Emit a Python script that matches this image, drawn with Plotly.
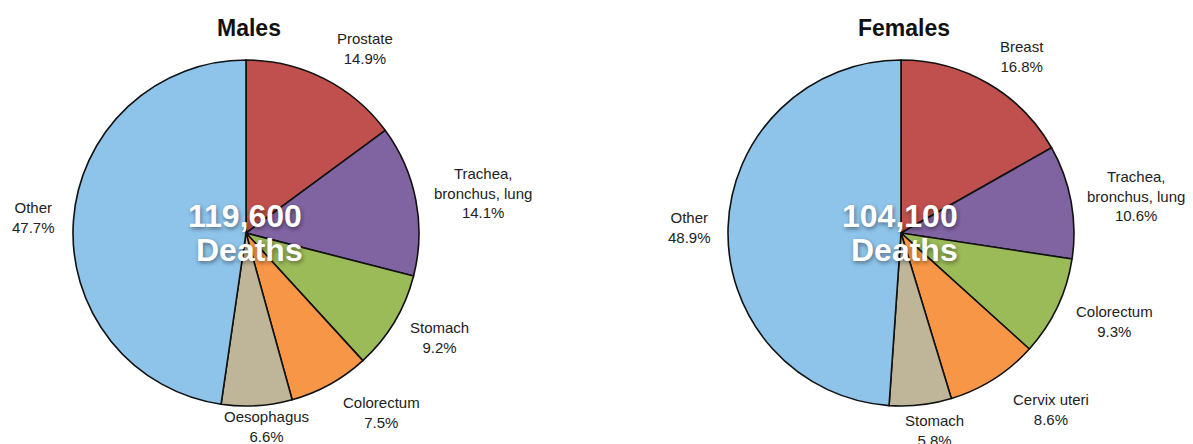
import math
import plotly.graph_objects as go

# ---------------- Data ----------------
male_labels = ["Prostate", "Trachea,<br>bronchus, lung", "Stomach", "Colorectum", "Oesophagus", "Other"]
male_values = [14.9, 14.1, 9.2, 7.5, 6.6, 47.7]
male_total = "119,600"

female_labels = ["Breast", "Trachea,<br>bronchus, lung", "Colorectum", "Cervix uteri", "Stomach", "Other"]
female_values = [16.8, 10.6, 9.3, 8.6, 5.8, 48.9]
female_total = "104,100"

center_word = "Deaths"

# ---------------- Styles / layout ----------------
slice_colors = ["#C0504D", "#8064A2", "#9BBB59", "#F79646", "#BFB69A", "#8EC4EA"]

# label placement (distance of label centre from pie centre in px, angular shift in degrees)
male_label_dist = [219, 240, 220, 225, 195, 213]
male_label_shift = [6.0, 1.3, -2.5, -7.9, -2.3, -0.1]
female_label_dist = [214, 238, 231, 232, 200, 212]
female_label_shift = [4.2, 1.5, -2.8, -8.0, -3.3, -0.6]

W, H = 1193, 444
R = 173

FONT = "Liberation Sans, Arial, Helvetica, sans-serif"


def px(X):
    return X / W


def py(Y):
    return 1 - Y / H


def dom(cx, cy):
    return dict(x=[px(cx - R), px(cx + R)], y=[py(cy + R), py(cy - R)])


fig = go.Figure()
annotations = []

pies = [
    ("Males", male_labels, male_values, male_total, male_label_dist, male_label_shift, (246, 233)),
    ("Females", female_labels, female_values, female_total, female_label_dist, female_label_shift, (901, 233)),
]

for title, labels, values, total, dists, shifts, (cx, cy) in pies:
    fig.add_trace(go.Pie(
        labels=[l.replace("<br>", " ") for l in labels],
        values=values,
        textinfo="none",
        sort=False,
        direction="clockwise",
        rotation=0,
        marker=dict(colors=slice_colors, line=dict(color="#111111", width=1.6)),
        domain=dom(cx, cy),
        showlegend=False,
        hoverinfo="label+percent",
    ))

    # outside labels placed at each slice's mid-angle
    tot = sum(values)
    cum = 0.0
    for lab, v, d, s in zip(labels, values, dists, shifts):
        mid = (cum + v / 2) / tot * 360.0
        cum += v
        a = math.radians(mid + s)
        X = cx + d * math.sin(a)
        Y = cy - d * math.cos(a)
        annotations.append(dict(
            text=f"{lab}<br>{v:.1f}%", x=px(X), y=py(Y), xref="paper", yref="paper",
            showarrow=False, xanchor="center", yanchor="middle", align="center",
            font=dict(family=FONT, size=15, color="#222222"),
        ))

    # title
    annotations.append(dict(
        text=title, x=px(cx + 3), y=py(28), xref="paper", yref="paper",
        showarrow=False, xanchor="center", yanchor="middle",
        font=dict(family=FONT, size=23, color="#111111", weight="bold"),
    ))
    # centre text
    cfont = dict(family=FONT, size=32, color="#FFFFFF", weight="bold",
                 shadow="1px 2px 4px rgba(0,0,0,0.45)")
    annotations.append(dict(
        text=total, x=px(cx - 1), y=py(216), xref="paper", yref="paper",
        showarrow=False, xanchor="center", yanchor="middle", font=cfont,
    ))
    annotations.append(dict(
        text=center_word, x=px(cx + 3), y=py(250), xref="paper", yref="paper",
        showarrow=False, xanchor="center", yanchor="middle", font=cfont,
    ))

fig.update_layout(
    width=W, height=H,
    margin=dict(l=0, r=0, t=0, b=0),
    paper_bgcolor="white",
    plot_bgcolor="white",
    annotations=annotations,
)

fig.write_html(
    "out.html",
    config={"displayModeBar": False},
    post_script="document.body.style.margin='0';document.body.style.overflow='hidden';",
)
